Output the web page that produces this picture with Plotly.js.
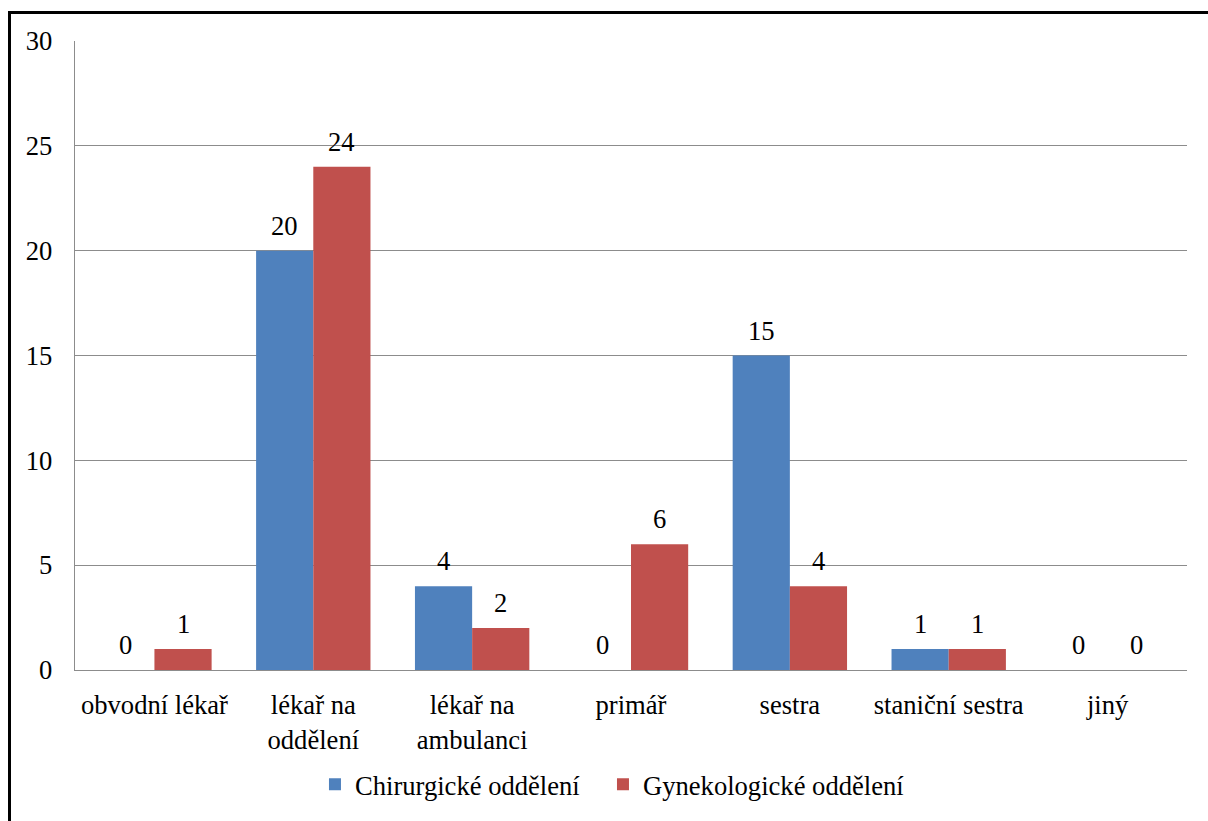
<!DOCTYPE html>
<html>
<head>
<meta charset="utf-8">
<script src="https://cdn.plot.ly/plotly-3.0.1.min.js"></script>
<style>
  html, body { margin: 0; padding: 0; background: #fff; overflow: hidden; }
  #chart { width: 1208px; height: 821px; }
  #frame {
    position: absolute; left: 8px; top: 11px; width: 1400px; height: 1000px;
    border: 3px solid #000; pointer-events: none; box-sizing: border-box;
  }
</style>
</head>
<body>
<div id="chart"></div>
<div id="frame"></div>
<script>
const categories = [
  'obvodní lékař',
  'lékař na<br>oddělení',
  'lékař na<br>ambulanci',
  'primář',
  'sestra',
  'staniční sestra',
  'jiný'
];
const chirurgicke = [0, 20, 4, 0, 15, 1, 0];
const gynekologicke = [1, 24, 2, 6, 4, 1, 0];
const yTicks = [0, 5, 10, 15, 20, 25, 30];

const font = { family: 'Liberation Serif, Times New Roman, serif', size: 26.6, color: '#000' };

const bargap = 0.28;
const plotLeft = 75, plotRight = 21, width = 1208;
// half of one bar's width in pixels, used to sit each value label over its own bar
const halfBar = ((width - plotLeft - plotRight) / categories.length) * (1 - bargap) / 4;

function series(name, values, color, legendId) {
  return {
    type: 'bar',
    name: name,
    x: categories,
    y: values,
    marker: { color: color },
    legend: legendId,
    hoverinfo: 'x+y+name'
  };
}

const data = [
  series('Chirurgické oddělení', chirurgicke, '#4F81BD', 'legend'),
  series('Gynekologické oddělení', gynekologicke, '#C0504D', 'legend2')
];

// value labels above each bar
const annotations = [];
[chirurgicke, gynekologicke].forEach((values, i) => {
  values.forEach((v, j) => {
    annotations.push({
      x: categories[j], y: v, xref: 'x', yref: 'y',
      text: String(v), showarrow: false,
      xanchor: 'center', yanchor: 'bottom',
      xshift: i === 0 ? -halfBar : halfBar,
      yshift: 8,
      font: font
    });
  });
});

function legendAt(x) {
  return {
    orientation: 'h',
    x: x, xanchor: 'left',
    y: -0.182, yanchor: 'middle',
    font: font,
    itemwidth: 30,
    bgcolor: 'rgba(0,0,0,0)'
  };
}

const layout = {
  width: width,
  height: 821,
  margin: { l: plotLeft, r: plotRight, t: 41, b: 148 },
  paper_bgcolor: '#fff',
  plot_bgcolor: '#fff',
  font: font,
  barmode: 'group',
  bargap: bargap,
  bargroupgap: 0,
  showlegend: true,
  legend: legendAt(0.2158),
  legend2: legendAt(0.4748),
  annotations: annotations,
  xaxis: {
    type: 'category',
    showgrid: false,
    showline: true,
    linecolor: '#8c8c8c',
    linewidth: 1.3,
    ticks: '',
    tickfont: font,
    ticklabelstandoff: 11,
    zeroline: false
  },
  yaxis: {
    range: [0, 30],
    tickvals: yTicks,
    ticktext: yTicks.map(String),
    showgrid: true,
    gridcolor: '#8c8c8c',
    gridwidth: 1.3,
    showline: true,
    linecolor: '#8c8c8c',
    linewidth: 1.3,
    zeroline: false,
    ticks: '',
    tickfont: font,
    ticklabelstandoff: 16
  }
};

Plotly.newPlot('chart', data, layout, { displayModeBar: false, staticPlot: true });
</script>
</body>
</html>
